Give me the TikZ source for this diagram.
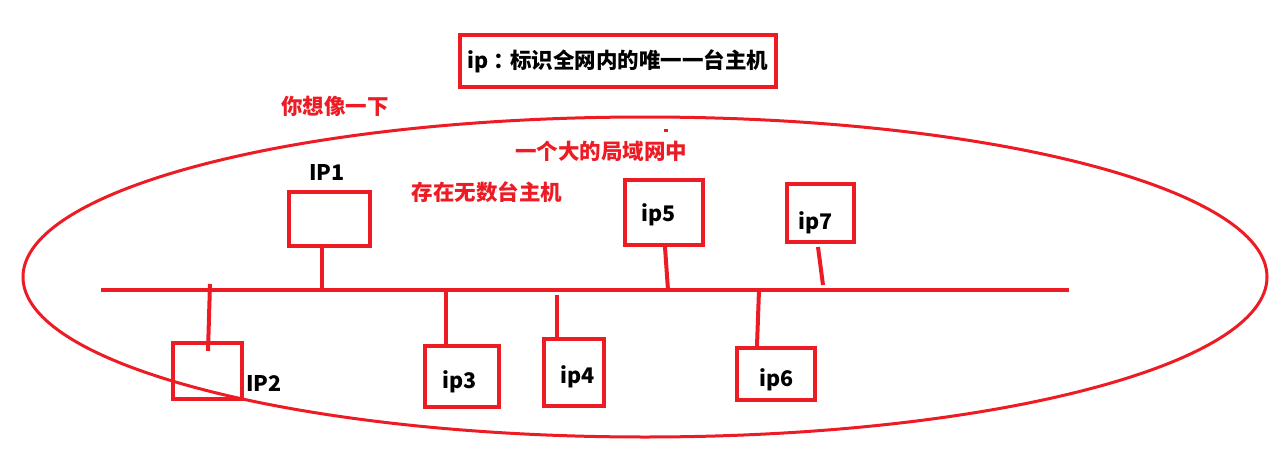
\documentclass[tikz,border=0pt]{standalone}
\usepackage{fontspec}
\usepackage{tikz}
\newfontfamily\cjk{Noto Sans CJK SC}
\definecolor{paintred}{RGB}{237,28,36}

\begin{document}
\begin{tikzpicture}[x=1pt, y=-1pt, font=\cjk\bfseries\fontsize{21.5}{26}\selectfont,
    hostbox/.style={draw=paintred, line width=4pt, inner sep=0pt},
    wire/.style={paintred, line width=4pt},
    remark/.style={text=paintred}]
  \useasboundingbox (0,0) rectangle (1270,458);

  \node[hostbox, minimum width=316pt, minimum height=52pt] (title) at (618,61) {ip\kern5pt：\kern-5pt标识全网内的唯一一台主机};
  \node[remark] (think) at (335,106) {你想像一下};
  \draw[paintred, line width=3pt] (645,277) ellipse [x radius=622pt, y radius=160pt];
  \fill[paintred] (664,128.5) rectangle (668,131.5);
  \node[remark] (lan) at (601,151) {一个大的局域网中};
  \node[remark] (many) at (487,192) {存在无数台主机};

  \coordinate (busL) at (101,290);
  \coordinate (busR) at (1069,290);
  \draw[wire] (busL) -- (busR);

  \node[hostbox, minimum width=81pt, minimum height=54pt] (ip1) at (329.5,219) {};
  \node (ip1 name) at (327,172) {IP1};
  \node[hostbox, minimum width=69pt, minimum height=56pt] (ip2) at (207.5,371) {};
  \node (ip2 name) at (264,383) {IP2};
  \node[hostbox, minimum width=74pt, minimum height=61pt] (ip3) at (462,376.5) {};
  \node (ip3 name) at (460,382) {ip3};
  \node[hostbox, minimum width=60pt, minimum height=67pt] (ip4) at (574,372.5) {};
  \node (ip4 name) at (578,377) {ip4};
  \node[hostbox, minimum width=78pt, minimum height=65pt] (ip5) at (664,212.5) {};
  \node (ip5 name) at (659,215) {ip5};
  \node[hostbox, minimum width=78pt, minimum height=52pt] (ip6) at (776,374) {};
  \node (ip6 name) at (777,380) {ip6};
  \node[hostbox, minimum width=67pt, minimum height=58pt] (ip7) at (820.5,213) {};
  \node (ip7 name) at (816,223) {ip7};

  \coordinate (tap1) at (322,290);
  \coordinate (tap2) at (210,284);
  \coordinate (tap3) at (446,290);
  \coordinate (tap4) at (557,295);
  \coordinate (tap5) at (668,290);
  \coordinate (tap6) at (759,290);
  \coordinate (tap7) at (823,285);
  \draw[wire] (tap1) -- (tap1 |- ip1.south);
  \draw[wire] (tap2) -- ([xshift=0.5pt,yshift=-10pt]ip2.north);
  \draw[wire] (tap3) -- (tap3 |- ip3.north);
  \draw[wire] (tap4) -- (tap4 |- ip4.north);
  \draw[wire] ([xshift=1pt]ip5.south) -- (tap5);
  \draw[wire] (tap6) -- ([xshift=-19pt]ip6.north);
  \draw[wire] ([xshift=-2.5pt,yshift=-3pt]ip7.south) -- (tap7);
\end{tikzpicture}
\end{document}
